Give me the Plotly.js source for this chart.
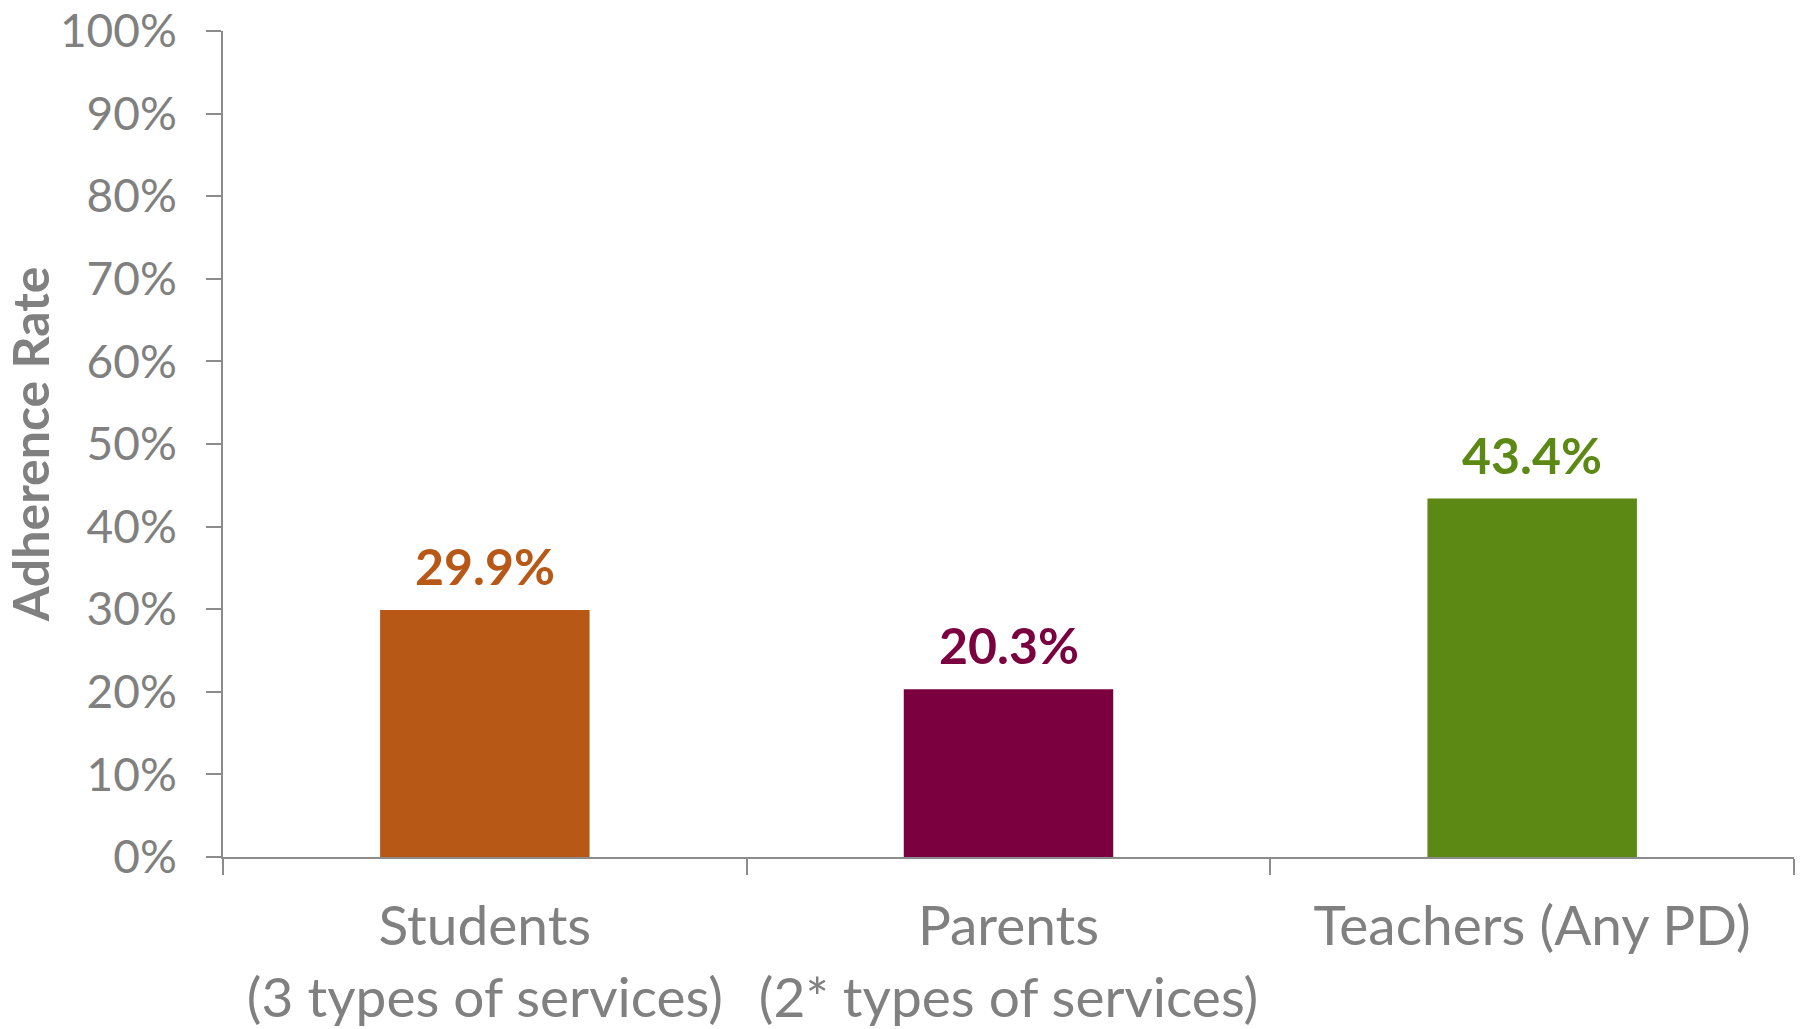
<!DOCTYPE html>
<html>
<head>
<meta charset="utf-8">
<script src="https://cdn.plot.ly/plotly-3.0.1.min.js"></script>
<style>html,body{margin:0;padding:0;background:#fff;}#chart{width:1814px;height:1029px;}</style>
</head>
<body>
<div id="chart"></div>
<script>
const categories = ["Students<br>(3 types of services)", "Parents<br>(2* types of services)", "Teachers (Any PD)"];
const values = [0.299, 0.203, 0.434];
const labels = ["29.9%", "20.3%", "43.4%"];
const barColors = ["#B85817", "#7B003F", "#5B8914"];
const yTickVals = [0, 0.1, 0.2, 0.3, 0.4, 0.5, 0.6, 0.7, 0.8, 0.9, 1.0];
const yTickText = ["0%", "10%", "20%", "30%", "40%", "50%", "60%", "70%", "80%", "90%", "100%"];

const FONT = "Lato, 'Open Sans', sans-serif";
const GRAY = "#808080";
const AXIS = "#8c8c8c";

const trace = {
  type: "bar",
  x: categories,
  y: values,
  marker: {color: barColors},
  hoverinfo: "none"
};

const annotations = categories.map((c, i) => ({
  x: c, y: values[i], xref: "x", yref: "y",
  text: "<b>" + labels[i] + "</b>",
  showarrow: false, yanchor: "bottom", yshift: 12,
  font: {family: FONT, size: 50, color: barColors[i]}
}));

const layout = {
  width: 1814, height: 1029,
  margin: {l: 223, r: 20, t: 31, b: 172},
  paper_bgcolor: "#fff", plot_bgcolor: "#fff",
  bargap: 0.6,
  showlegend: false,
  font: {family: FONT, color: GRAY},
  xaxis: {
    type: "category",
    showline: true, linecolor: AXIS, linewidth: 2,
    ticks: "outside", tickson: "boundaries", ticklen: 16, tickcolor: AXIS, tickwidth: 2,
    tickfont: {family: FONT, size: 55, color: GRAY},
    ticklabelstandoff: 20,
    showgrid: false, zeroline: false
  },
  yaxis: {
    range: [0, 1],
    tickvals: yTickVals, ticktext: yTickText,
    showline: true, linecolor: AXIS, linewidth: 2,
    ticks: "outside", ticklen: 15, tickcolor: AXIS, tickwidth: 2,
    tickfont: {family: FONT, size: 46, color: GRAY},
    ticklabelstandoff: 20,
    showgrid: false, zeroline: false,
    title: {text: "<b>Adherence Rate</b>", font: {family: FONT, size: 50, color: GRAY}, standoff: 14}
  },
  annotations: annotations
};

Plotly.newPlot("chart", [trace], layout, {displayModeBar: false, staticPlot: true});
</script>
</body>
</html>
